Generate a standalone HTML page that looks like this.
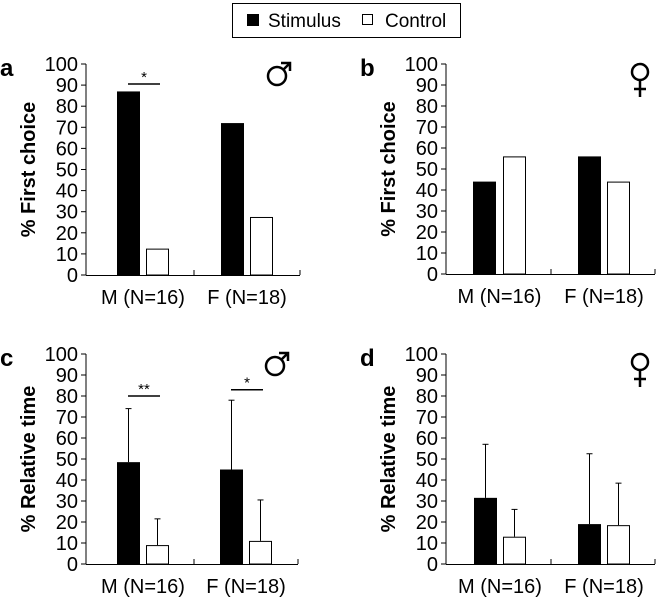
<!DOCTYPE html>
<html><head><meta charset="utf-8"><style>
body{margin:0;background:#fff}
svg{display:block;font-family:"Liberation Sans","DejaVu Sans",sans-serif}
</style></head><body>
<svg id="c" width="660" height="598">
<g>
<rect x="232.5" y="3.5" width="228" height="34" fill="#fff" stroke="#000"/>
<rect x="247" y="14" width="12" height="12" fill="#000"/>
<text x="268" y="27" font-size="19">Stimulus</text>
<rect x="362.5" y="14.5" width="10" height="10" fill="#fff" stroke="#000"/>
<text x="385" y="27" font-size="19">Control</text>
</g>
</svg>
<script>
const categories=["M (N=16)","F (N=18)"];
const ticks=[0,10,20,30,40,50,60,70,80,90,100];
const aStim=[87,72], aCtrl=[12.5,27.5];
const bStim=[44,56], bCtrl=[56,44];
const cStim=[48.5,45], cCtrl=[9,11], cStimErr=[74,78], cCtrlErr=[21.5,30.5];
const dStim=[31.5,19], dCtrl=[13,18.5], dStimErr=[57,52.5], dCtrlErr=[26,38.5];
const aSig=[{g:0,y:90.5,t:"*"}];
const cSig=[{g:0,y:80,t:"**"},{g:1,y:83,t:"*"}];
const NS="http://www.w3.org/2000/svg";
const svg=document.getElementById('c');
function mk(tag,at,parent){const e=document.createElementNS(NS,tag);for(const k in at)e.setAttribute(k,at[k]);(parent||svg).appendChild(e);return e;}
function panel(p){
 const g=mk('g',{});
 
 
 const y=v=>p.y0-(p.y0-p.y100)*v/100;
 const bw=23;
 mk('line',{x1:p.x0,y1:p.y100,x2:p.x0,y2:p.y0,stroke:'#000'},g);
 mk('line',{x1:p.x0,y1:p.y0+0.5,x2:p.x1,y2:p.y0+0.5,stroke:'#000'},g);
 mk('line',{x1:p.mid,y1:p.y0,x2:p.mid,y2:p.y0-5,stroke:'#000'},g);
 mk('line',{x1:p.x1,y1:p.y0,x2:p.x1,y2:p.y0-5,stroke:'#000'},g);
 ticks.forEach(t=>{
  mk('line',{x1:p.x0-5,y1:y(t),x2:p.x0,y2:y(t),stroke:'#000'},g);
  const tx=mk('text',{x:p.x0-8,y:y(t)+7,'font-size':20,'text-anchor':'end'},g);
  tx.textContent=t;
  
  
 });
 const yt=mk('text',{x:0,y:0,'font-size':20,'font-weight':'bold','text-anchor':'middle',transform:`translate(${p.x0-51},${(p.y0+p.y100)/2}) rotate(-90)`},g);
 yt.textContent=p.title;
 
 
 const lb=mk('text',{x:p.x0-86,y:p.y100+12,'font-size':24,'font-weight':'bold'},g);
 lb.textContent=p.id;
 
 
 const sg=mk('g',{fill:'none',stroke:'#000','stroke-width':2.5},g);
 
 
 if(p.male){
  const cx=p.x1-23, cy=p.y100+12;
  mk('circle',{cx:cx,cy:cy,r:9},sg);
  mk('path',{d:`M${cx+6.5} ${cy-6.5}L${cx+13} ${cy-13}M${cx+4} ${cy-13}H${cx+13}V${cy-5}`},sg);
 }else{
  const cx=p.x1-15, cy=p.y100+8;
  mk('circle',{cx:cx,cy:cy,r:8},sg);
  mk('path',{d:`M${cx} ${cy+8}V${cy+25}M${cx-6} ${cy+17}H${cx+6}`},sg);
 }
 categories.forEach((c,i)=>{
  const sl=p.sL[i], cl=p.cL[i];
  if(p.se){mk('line',{x1:sl+bw/2,y1:y(p.se[i]),x2:sl+bw/2,y2:y(p.stim[i]),stroke:'#000'},g);mk('line',{x1:sl+bw/2-3,y1:y(p.se[i]),x2:sl+bw/2+3,y2:y(p.se[i]),stroke:'#000'},g);}
  if(p.ce){mk('line',{x1:cl+bw/2,y1:y(p.ce[i]),x2:cl+bw/2,y2:y(p.ctrl[i]),stroke:'#000'},g);mk('line',{x1:cl+bw/2-3,y1:y(p.ce[i]),x2:cl+bw/2+3,y2:y(p.ce[i]),stroke:'#000'},g);}
  const b1=mk('rect',{x:sl,y:y(p.stim[i]),width:bw,height:y(0)-y(p.stim[i]),fill:'#000'},g);
  
  
  const b2=mk('rect',{x:cl+0.5,y:y(p.ctrl[i])+0.5,width:bw-1,height:y(0)-y(p.ctrl[i])-0.5,fill:'#fff',stroke:'#000'},g);
  
  
  const xl=mk('text',{x:(sl+cl+bw)/2,y:p.y0+29,'font-size':20,'text-anchor':'middle'},g);
  xl.textContent=c;
  
  
 });
 (p.sig||[]).forEach(s=>{
  const a=p.sL[s.g]+11, b=p.cL[s.g]+8;
  mk('line',{x1:a,y1:y(s.y),x2:b+6,y2:y(s.y),stroke:'#000','stroke-width':1.5},g);
  const st=mk('text',{x:(a+b+6)/2,y:y(s.y)-2,'font-size':15,'text-anchor':'middle'},g);
  st.textContent=s.t;
  
  
 });
}
panel({id:'a',x0:86,x1:300,mid:194,y0:275,y100:64,sL:[117,221],cL:[146,250],stim:aStim,ctrl:aCtrl,title:'% First choice',male:true,sig:aSig});
panel({id:'b',x0:446,x1:655,mid:551,y0:274,y100:64,sL:[473,578],cL:[503,607],stim:bStim,ctrl:bCtrl,title:'% First choice',male:false});
panel({id:'c',x0:86,x1:298,mid:194,y0:564,y100:354,sL:[117,220],cL:[146,249],stim:cStim,ctrl:cCtrl,se:cStimErr,ce:cCtrlErr,title:'% Relative time',male:true,sig:cSig});
panel({id:'d',x0:446,x1:655,mid:551,y0:564,y100:354,sL:[474,578],cL:[503,607],stim:dStim,ctrl:dCtrl,se:dStimErr,ce:dCtrlErr,title:'% Relative time',male:false});
</script>
</body></html>
